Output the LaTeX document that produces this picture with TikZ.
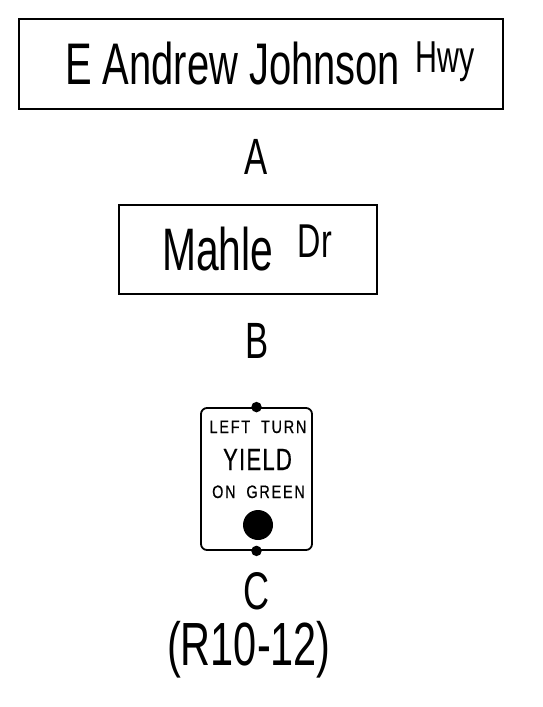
\documentclass[tikz,border=0pt]{standalone}
\usepackage{fontspec}
\setmainfont{Liberation Sans}[FakeStretch=0.68]
\newfontfamily\signfont{Liberation Sans}[FakeStretch=0.8, FakeBold=0.6, LetterSpace=10]
\newfontfamily\yieldfont{Liberation Sans}[FakeStretch=0.72, FakeBold=0.4, LetterSpace=4]
\usepackage{tikz}
\usetikzlibrary{positioning}
\tikzstyle{streetbox} = [rectangle, draw=black, line width=1.2pt, inner sep=0pt]
\tikzstyle{signbox} = [rectangle, rounded corners=6pt, draw=black, line width=1.8pt, inner sep=0pt, minimum width=111pt, minimum height=142pt]
\tikzstyle{txt} = [inner sep=0pt, anchor=base]
\tikzstyle{post} = [circle, fill=black, inner sep=0pt, minimum size=10.5pt]

\begin{document}
\begin{tikzpicture}[x=1pt, y=-1pt]
	    	\useasboundingbox (0,0) rectangle (543,707);
	    	
	    	\node (boxAJ) [streetbox, minimum width=484pt, minimum height=90pt] at (261,64) {};
	    	\node (nameAJ) [txt, anchor=base west, font=\fontsize{58.7}{60}\selectfont] at (65,84) {E Andrew Johnson};
	    	\node (typeAJ) [txt, anchor=base west, font=\fontsize{44.7}{46}\selectfont] at (415,72) {Hwy};
	    	\node (labelA) [txt, font=\fontsize{51}{53}\selectfont] at (256,174) {A};
	    	
	    	\node (boxMahle) [streetbox, minimum width=258pt, minimum height=89pt] at (248,249.5) {};
	    	\node (nameMahle) [txt, anchor=base west, font=\fontsize{60}{62}\selectfont] at (162,270) {Mahle};
	    	\node (typeMahle) [txt, anchor=base west, font=\fontsize{47.5}{49}\selectfont] at (297.5,257) {Dr};
	    	\node (labelB) [txt, font=\fontsize{51}{53}\selectfont] at (257,358) {B};
	    	
	    	\node (signC) [signbox] at (256.5,479) {};
	    	\node (postTop) [post] at (signC.north) {};
	    	\node (postBottom) [post] at (signC.south) {};
	    	\node (lineLeft) [txt, font=\signfont\fontsize{18}{20}\selectfont] at (258,433) {LEFT\hspace{5pt} TURN};
	    	\node (lineYield) [txt, font=\yieldfont\fontsize{30.7}{32}\selectfont] at (257.5,470) {YIELD};
	    	\node (lineGreen) [txt, font=\signfont\fontsize{18}{20}\selectfont] at (258.5,498) {ON\hspace{5pt} GREEN};
	    	\node (greenDot) [circle, fill=black, inner sep=0pt, minimum size=30pt] at (258,525) {};
	    	\node (labelC) [txt, font=\fontsize{53}{55}\selectfont] at (257,609) {C};
	    	\node (codeC) [txt, font=\fontsize{61}{63}\selectfont] at (249,665) {(R10-12)};
\end{tikzpicture}
\end{document}
